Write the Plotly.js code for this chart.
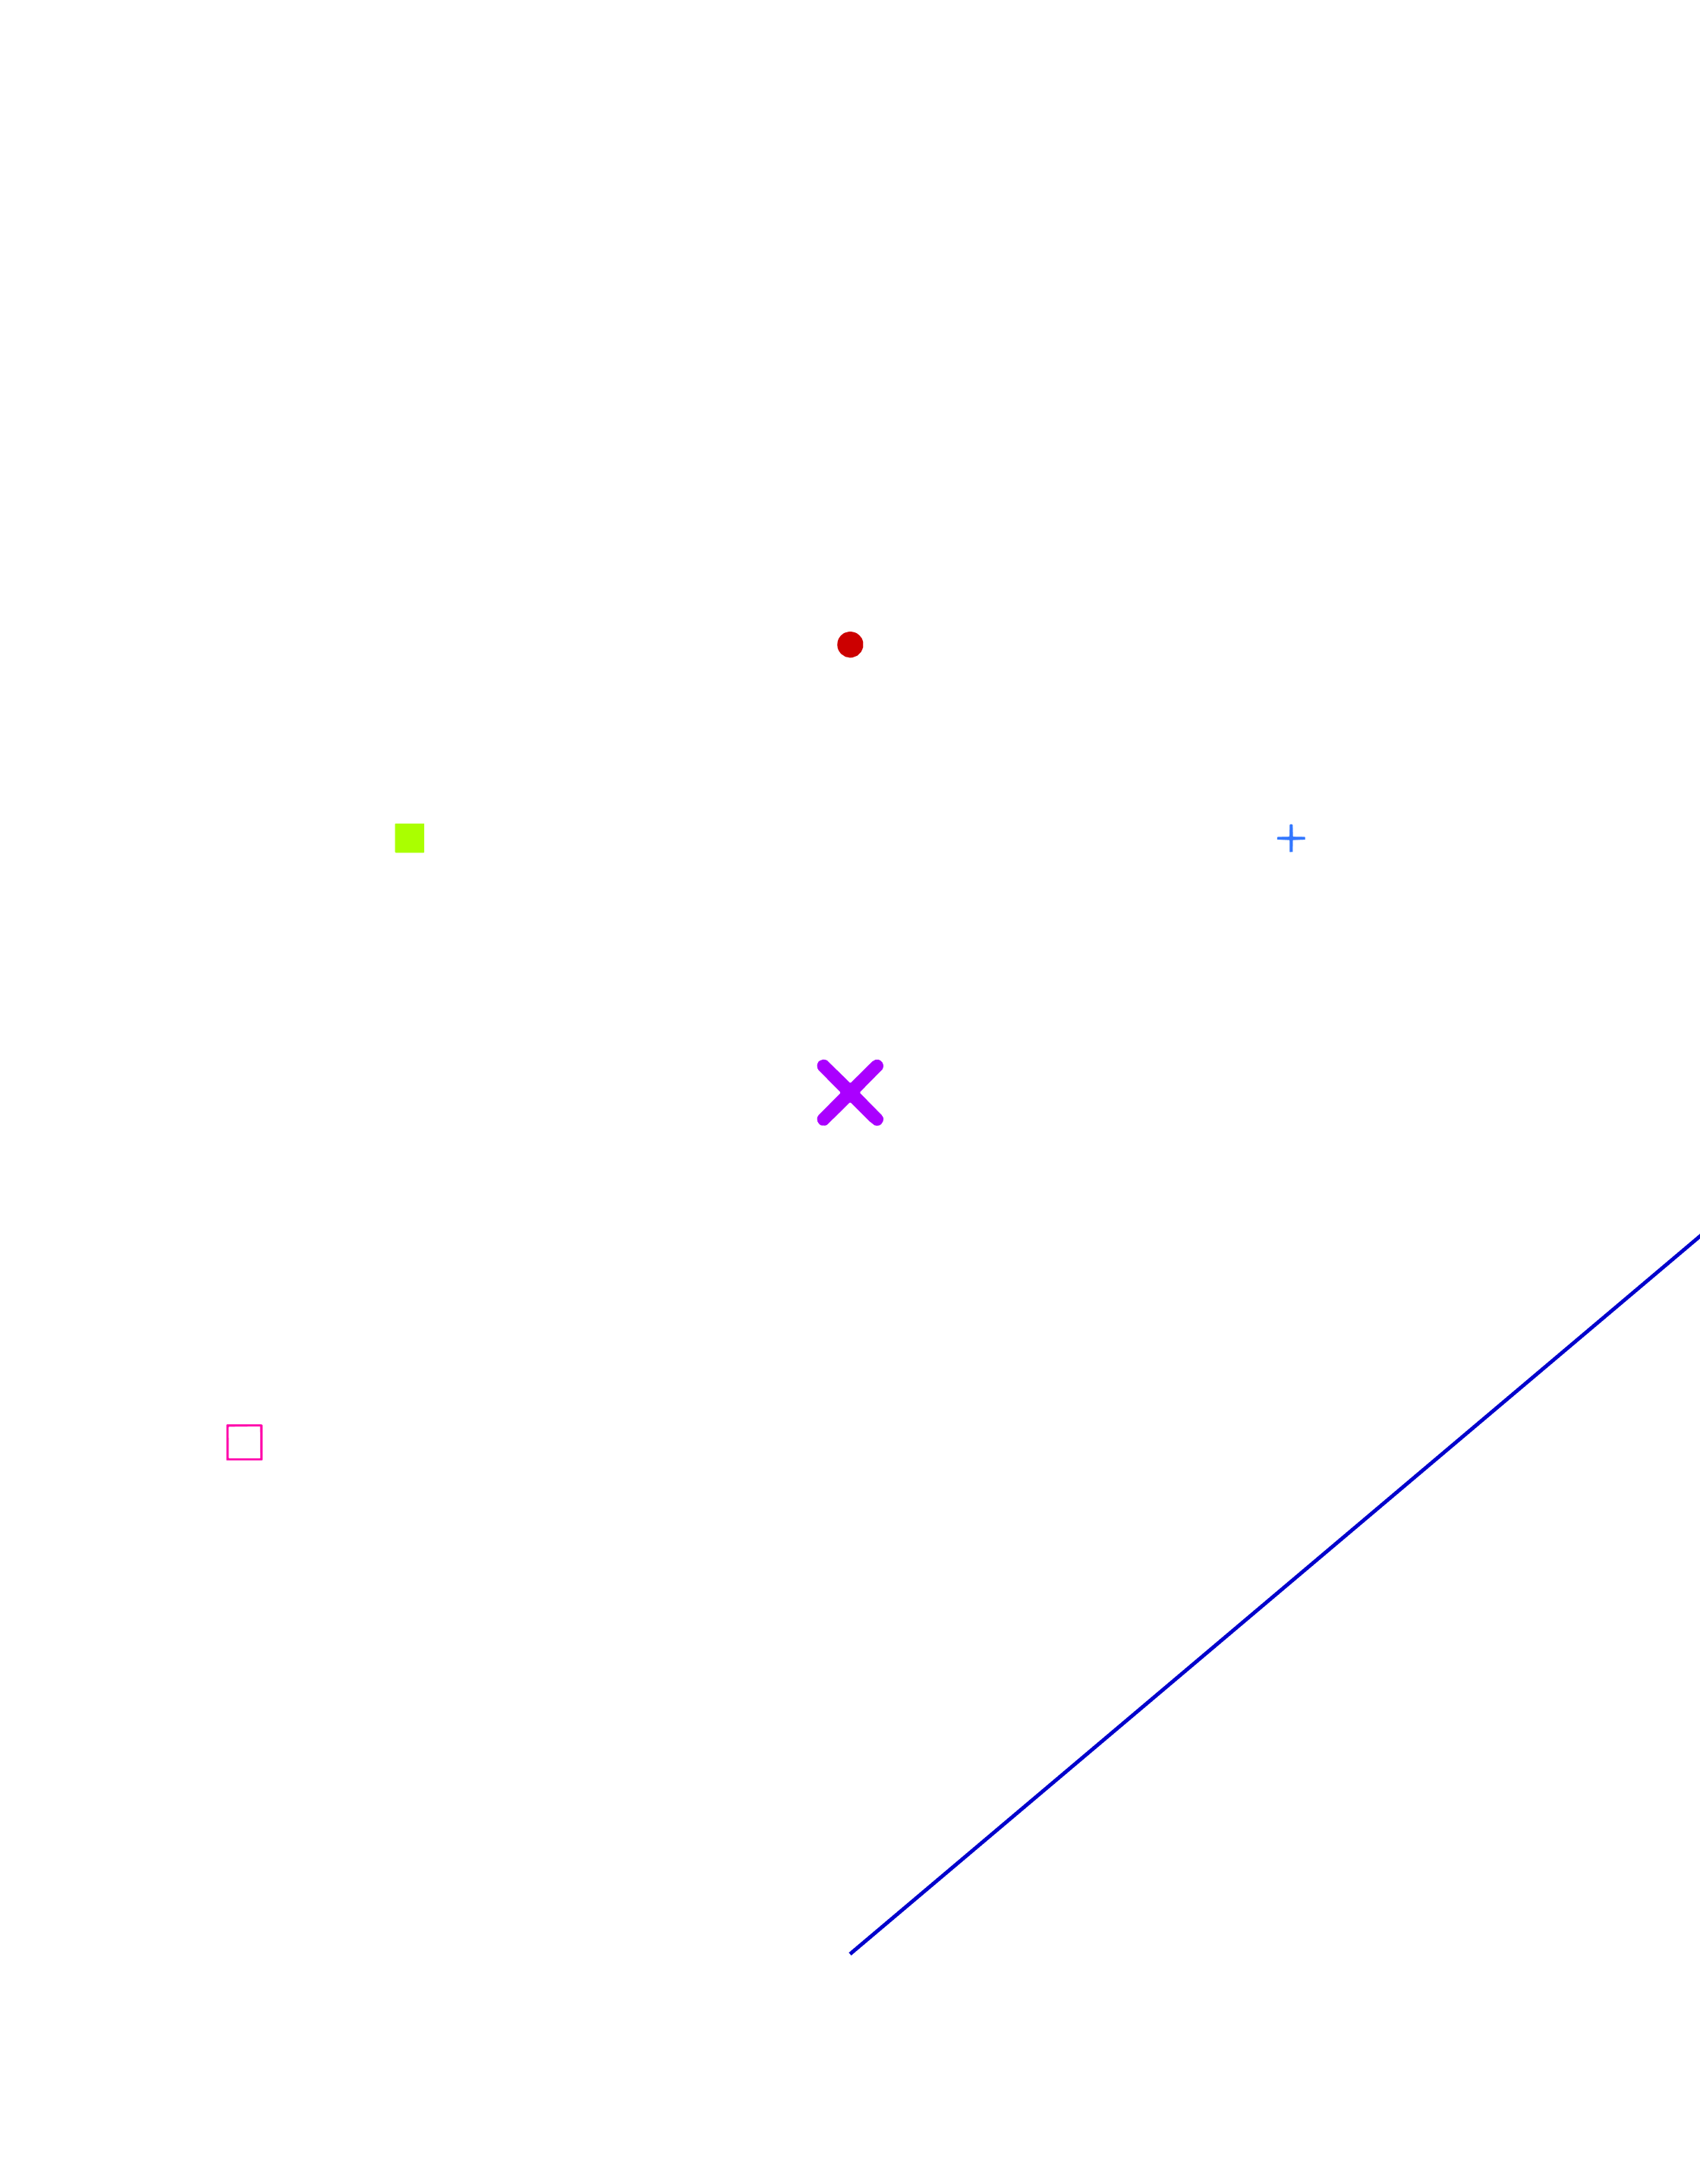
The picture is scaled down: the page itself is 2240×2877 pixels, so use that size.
<!DOCTYPE html>
<html><head><meta charset="utf-8">
<script src="https://cdn.plot.ly/plotly-3.0.1.min.js"></script>
<style>html,body{margin:0;padding:0;background:#fff}#chart{width:2240px;height:2877px}</style>
</head><body><div id="chart"></div>
<script>
const xs=[0,1,2,0,1,2];
const ys=[0,0,0,1,1,1];
const zs=[0,0,0,0,0,0];
const cols=['#cc0000','#aaff00','#00aaff','#3377ff','#aa00ff','#ff00aa'];
const syms=['circle','square','diamond','cross','x','square-open'];
Plotly.newPlot('chart',[{type:'scatter3d',mode:'markers',x:xs,y:ys,z:zs,marker:{color:cols,size:20,symbol:syms}},
{type:'scatter3d',mode:'lines',x:[0,2],y:[2,2],z:[0,0],line:{color:'#0000cc',width:10}}],
{width:2240,height:2877,margin:{l:0,r:0,t:0,b:0},showlegend:false,paper_bgcolor:'#fff',
scene:{domain:{x:[0,1],y:[0,1]},xaxis:{visible:false},yaxis:{visible:false},zaxis:{visible:false}}},{displayModeBar:false});
</script></body></html>
